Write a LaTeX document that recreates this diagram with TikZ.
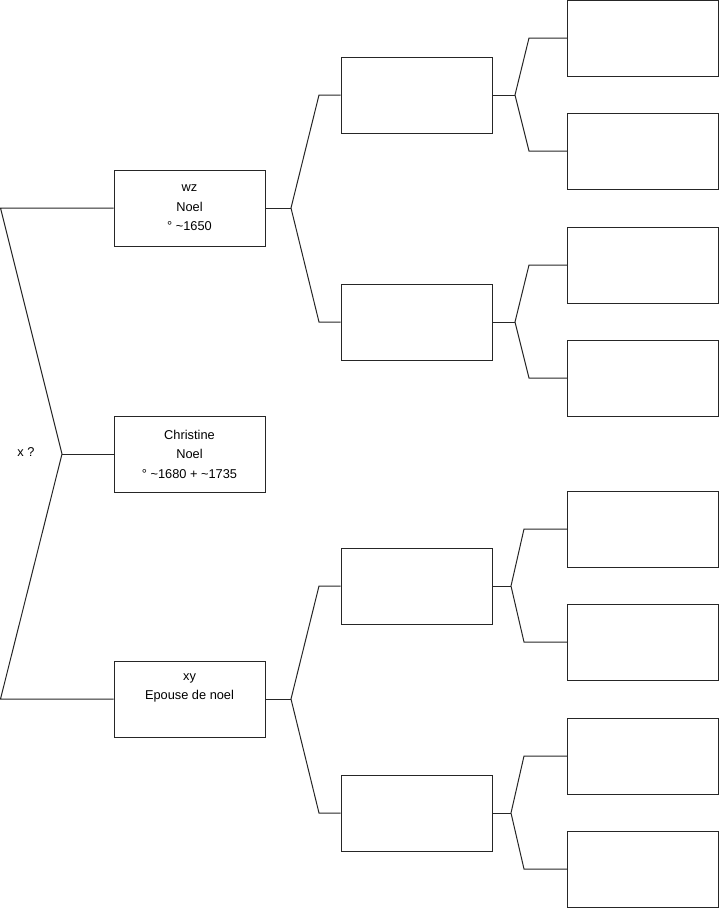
\documentclass[tikz,border=0pt]{standalone}
\usepackage{fontspec}
\setmainfont{Liberation Sans}
\begin{document}
\begin{tikzpicture}[x=0.75pt,y=-0.75pt,
  box/.style={draw=black!85, line width=0.75pt, minimum width=113.25pt, minimum height=57pt, inner sep=0pt, align=center, font=\fontsize{9.6}{14.6}\selectfont},
  conn/.style={draw=black!85, line width=0.75pt}]
\useasboundingbox (0,0) rectangle (719,908);
% level 1
\node[box] (wz) at (189.5,208) {wz\\Noel\\° \textasciitilde1650};
\node[box] (ch) at (189.5,454) {Christine\\Noel\\° \textasciitilde1680 + \textasciitilde1735};
\node[box] (xy) at (189.5,699) {xy\\Epouse de noel\\\strut};
% level 2
\node[box] (a1) at (416.5,95) {};
\node[box] (a2) at (416.5,322) {};
\node[box] (b1) at (416.5,586) {};
\node[box] (b2) at (416.5,813) {};
% level 3
\node[box] (c1) at (643,38) {};
\node[box] (c2) at (643,151) {};
\node[box] (c3) at (643,265) {};
\node[box] (c4) at (643,378) {};
\node[box] (c5) at (643,529) {};
\node[box] (c6) at (643,642) {};
\node[box] (c7) at (643,756) {};
\node[box] (c8) at (643,869) {};
% root connector
\coordinate (r0) at (62,454);
\coordinate (rt) at (0.5,208);
\coordinate (rb) at (0.5,699);
\draw[conn] (wz.west) -- (rt) -- (r0) -- (rb) -- (xy.west);
\draw[conn] (r0) -- (ch.west);
\node[font=\fontsize{9.6}{11}\selectfont] (xq) at (26,452) {x ?};
% level 1 -> 2
\coordinate (j1) at (291,208);
\coordinate (j1t) at (319,95);
\coordinate (j1b) at (319,322);
\draw[conn] (wz.east) -- (j1);
\draw[conn] (a1.west) -- (j1t) -- (j1) -- (j1b) -- (a2.west);
\coordinate (j2) at (291,699);
\coordinate (j2t) at (319,586);
\coordinate (j2b) at (319,813);
\draw[conn] (xy.east) -- (j2);
\draw[conn] (b1.west) -- (j2t) -- (j2) -- (j2b) -- (b2.west);
% level 2 -> 3
\coordinate (k1) at (515,95);
\coordinate (k1t) at (529,38);
\coordinate (k1b) at (529,151);
\draw[conn] (a1.east) -- (k1);
\draw[conn] (c1.west) -- (k1t) -- (k1) -- (k1b) -- (c2.west);
\coordinate (k2) at (515,322);
\coordinate (k2t) at (529,265);
\coordinate (k2b) at (529,378);
\draw[conn] (a2.east) -- (k2);
\draw[conn] (c3.west) -- (k2t) -- (k2) -- (k2b) -- (c4.west);
\coordinate (k3) at (511,586);
\coordinate (k3t) at (524,529);
\coordinate (k3b) at (524,642);
\draw[conn] (b1.east) -- (k3);
\draw[conn] (c5.west) -- (k3t) -- (k3) -- (k3b) -- (c6.west);
\coordinate (k4) at (511,813);
\coordinate (k4t) at (524,756);
\coordinate (k4b) at (524,869);
\draw[conn] (b2.east) -- (k4);
\draw[conn] (c7.west) -- (k4t) -- (k4) -- (k4b) -- (c8.west);
\end{tikzpicture}
\end{document}
